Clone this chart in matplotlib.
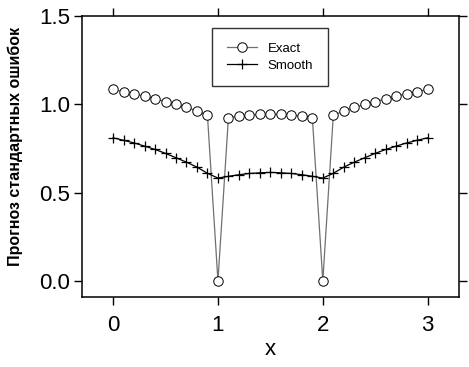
import matplotlib
matplotlib.use("Agg")
import matplotlib.pyplot as plt
import numpy as np

plt.rcParams['font.family'] = ['Liberation Sans', 'DejaVu Sans']

# x grid 0..3 step 0.1
x = np.round(np.arange(0, 3.01, 0.1), 1)

# exact standard error of forecast
exact_left = [1.085, 1.072, 1.060, 1.047, 1.032, 1.016, 1.000, 0.983, 0.963, 0.938]
exact_mid = [0.926, 0.934, 0.940, 0.944, 0.946, 0.944, 0.940, 0.934, 0.926]
exact = exact_left + [0.0] + exact_mid + [0.0] + exact_left[::-1]

# smoothed version
smooth_left = [0.811, 0.797, 0.782, 0.764, 0.745, 0.723, 0.698, 0.673, 0.645, 0.610]
smooth_mid = [0.593, 0.602, 0.609, 0.613, 0.615, 0.613, 0.609, 0.602, 0.593]
smooth = smooth_left + [0.583] + smooth_mid + [0.583] + smooth_left[::-1]

fig = plt.figure(figsize=(4.69, 3.67), dpi=100)
ax = fig.add_axes([0.174, 0.191, 0.805, 0.765])

ax.plot(x, exact, color='#707070', lw=0.9, marker='o', ms=6.8,
        mfc='white', mec='black', mew=0.7, label='Exact')
ax.plot(x, smooth, color='black', lw=0.9, marker='+', ms=7.5,
        mew=0.9, label='Smooth')

ax.set_xlim(-0.3, 3.3)
ax.set_ylim(-0.09, 1.5)
ax.set_xticks([0, 1, 2, 3])
ax.set_yticks([0.0, 0.5, 1.0, 1.5])
ax.set_yticklabels(['0.0', '0.5', '1.0', '1.5'])
ax.tick_params(direction='out', length=6, width=1, labelsize=16,
               top=True, right=True)
ax.tick_params(axis='x', pad=7)
ax.tick_params(axis='y', pad=2)
for s in ax.spines.values():
    s.set_linewidth(1.1)

ax.set_xlabel('x', fontsize=16, labelpad=2)
ax.set_ylabel('Прогноз стандартных ошибок', fontsize=11.5, fontweight='bold')
ax.yaxis.set_label_coords(-0.155, 0.537)

leg = ax.legend(loc='upper left', bbox_to_anchor=(0.346, 0.957),
                borderaxespad=0, fontsize=9.5, frameon=True, fancybox=False,
                edgecolor='black', handlelength=2.3, handletextpad=0.8,
                labelspacing=0.35, borderpad=1.1)
leg.get_frame().set_linewidth(1.0)

fig.savefig('out.png', dpi=100)
